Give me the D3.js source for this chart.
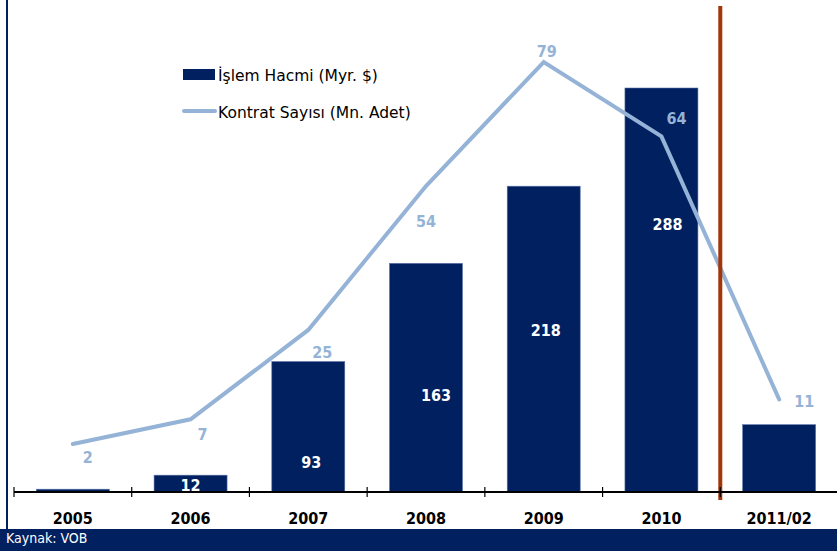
<!DOCTYPE html>
<html>
<head>
<meta charset="utf-8">
<script src="https://d3js.org/d3.v7.min.js"></script>
<style>
body { margin: 0; background: #fff; }
text { font-family: Tahoma, "DejaVu Sans Condensed", "DejaVu Sans", sans-serif; }
</style>
</head>
<body>
<div id="chart"></div>
<script>
var width = 837;
var height = 551;

// data
var years = ["2005", "2006", "2007", "2008", "2009", "2010", "2011/02"];
var islemHacmi = [2, 12, 93, 163, 218, 288, 48];          // Myr. $
var islemLabels = ["", "12", "93", "163", "218", "288", ""];
var kontratSayisi = [2, 7, 25, 54, 79, 64, 11];           // Mn. Adet

// where the value labels sit (pixel nudges, not data)
var barLabelUp = [0, 1, 24, 91, 156, 262, 0];
var barLabelDx = [0, 0, 3, 10, 2, 6, 0];
var lineLabelDx = [15, 12, 14, 0, 3, 15, 25];
var lineLabelDy = [19, 21, 28, 41, -5, -12, 8];

var navy = "#002060", lightBlue = "#95B3D7", rust = "#A0360A";

var svg = d3.select("#chart").append("svg")
    .attr("width", width)
    .attr("height", height);

var baseY = 492;

var x = d3.scaleBand().domain(years).range([14, 838]).paddingInner(0.38).paddingOuter(0.19);
var yBar = d3.scaleLinear().domain([0, 288]).range([baseY, 88]);
var yLine = d3.scaleLinear().domain([0, 79]).range([454, 62]);

// left border
svg.append("line")
    .attr("x1", 7).attr("x2", 7)
    .attr("y1", 0).attr("y2", 529)
    .attr("stroke", navy).attr("stroke-width", 2);

// bars
svg.selectAll(".bar")
    .data(islemHacmi)
    .enter()
    .append("rect")
    .attr("class", "bar")
    .attr("x", function(d, i) { return x(years[i]); })
    .attr("y", function(d) { return yBar(d); })
    .attr("width", x.bandwidth())
    .attr("height", function(d) { return baseY - yBar(d); })
    .attr("fill", navy)
    .attr("stroke", "#5a74a8")
    .attr("stroke-width", 0.6);

svg.selectAll(".barlabel")
    .data(islemLabels)
    .enter()
    .append("text")
    .attr("class", "barlabel")
    .attr("x", function(d, i) { return x(years[i]) + x.bandwidth() / 2 + barLabelDx[i]; })
    .attr("y", function(d, i) { return baseY - barLabelUp[i]; })
    .attr("text-anchor", "middle")
    .attr("fill", "#fff")
    .style("font-size", "16px")
    .style("font-weight", "bold")
    .text(function(d) { return d; });

// line
var line = d3.line()
    .x(function(d, i) { return x(years[i]) + x.bandwidth() / 2; })
    .y(function(d) { return yLine(d); });

svg.append("path")
    .datum(kontratSayisi)
    .attr("d", line)
    .attr("fill", "none")
    .attr("stroke", lightBlue)
    .attr("stroke-width", 4)
    .attr("stroke-linecap", "round")
    .attr("stroke-linejoin", "miter");

svg.selectAll(".linelabel")
    .data(kontratSayisi)
    .enter()
    .append("text")
    .attr("class", "linelabel")
    .attr("x", function(d, i) { return x(years[i]) + x.bandwidth() / 2 + lineLabelDx[i]; })
    .attr("y", function(d, i) { return yLine(d) + lineLabelDy[i]; })
    .attr("text-anchor", "middle")
    .attr("fill", lightBlue)
    .style("font-size", "16px")
    .style("font-weight", "bold")
    .text(function(d) { return d; });

// separator before 2011/02
var sepX = x("2011/02") - x.step() * x.paddingInner() / 2;
svg.append("line")
    .attr("x1", sepX).attr("x2", sepX)
    .attr("y1", 6).attr("y2", 500)
    .attr("stroke", rust).attr("stroke-width", 4);

// x axis: ticks at band edges
var edges = years.map(function(d) { return x(d) - x.step() * x.paddingInner() / 2; });
var axisG = svg.append("g");
axisG.append("line")
    .attr("x1", 14).attr("x2", 837)
    .attr("y1", baseY).attr("y2", baseY)
    .attr("stroke", "#000").attr("stroke-width", 2);
axisG.selectAll(".tick")
    .data(edges)
    .enter()
    .append("line")
    .attr("x1", function(d) { return d; })
    .attr("x2", function(d) { return d; })
    .attr("y1", baseY - 5).attr("y2", baseY + 5)
    .attr("stroke", "#000").attr("stroke-width", 1.2);
axisG.selectAll(".year")
    .data(years)
    .enter()
    .append("text")
    .attr("x", function(d) { return x(d) + x.bandwidth() / 2; })
    .attr("y", 524)
    .attr("text-anchor", "middle")
    .style("font-size", "16px")
    .style("font-weight", "bold")
    .attr("fill", "#000")
    .text(function(d) { return d; });

// legend
var legend = svg.append("g");
legend.append("rect")
    .attr("x", 183).attr("y", 69)
    .attr("width", 32).attr("height", 11)
    .attr("fill", navy);
legend.append("text")
    .attr("x", 218).attr("y", 81)
    .style("font-family", "'DejaVu Sans', sans-serif")
    .style("font-size", "15.5px")
    .attr("fill", "#000")
    .text("İşlem Hacmi (Myr. $)");
legend.append("line")
    .attr("x1", 184).attr("x2", 215)
    .attr("y1", 111).attr("y2", 111)
    .attr("stroke", lightBlue).attr("stroke-width", 4)
    .attr("stroke-linecap", "round");
legend.append("text")
    .attr("x", 218).attr("y", 118)
    .style("font-family", "'DejaVu Sans', sans-serif")
    .style("font-size", "15.5px")
    .attr("fill", "#000")
    .text("Kontrat Sayısı (Mn. Adet)");

// source banner
svg.append("rect")
    .attr("x", 0).attr("y", 529)
    .attr("width", width).attr("height", 22)
    .attr("fill", navy);
svg.append("text")
    .attr("x", 6).attr("y", 543)
    .attr("fill", "#fff")
    .style("font-size", "14px")
    .text("Kaynak: VOB");
</script>
</body>
</html>
